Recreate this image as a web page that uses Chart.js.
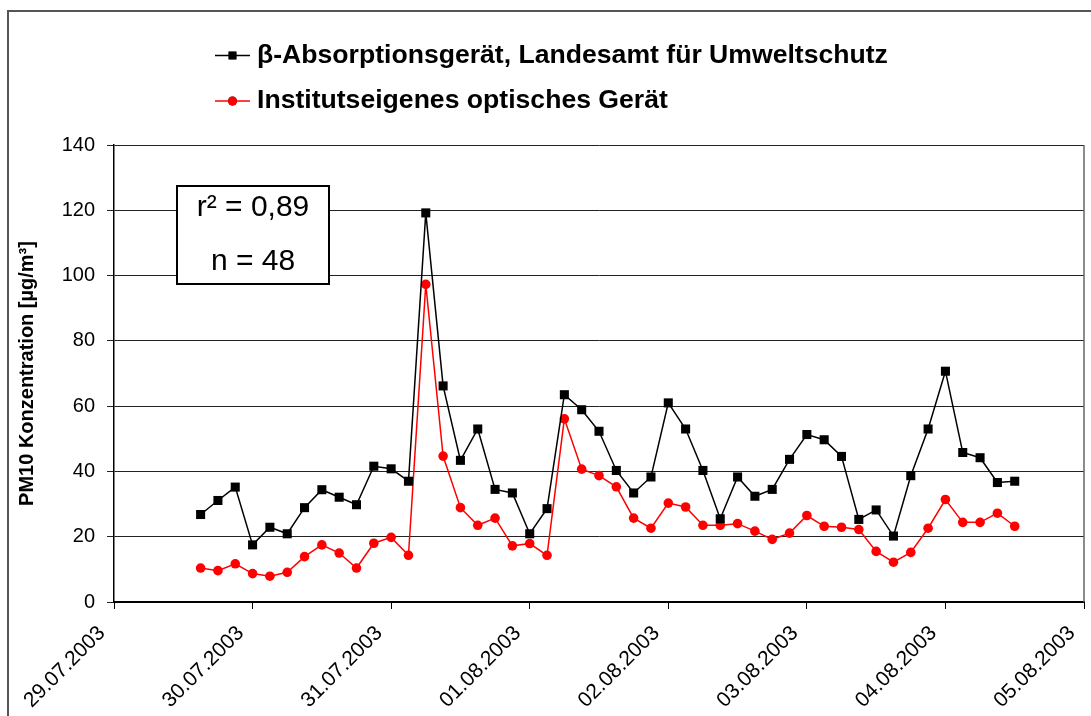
<!DOCTYPE html>
<html>
<head>
<meta charset="utf-8">
<script src="https://cdn.jsdelivr.net/npm/chart.js@4.4.1/dist/chart.umd.min.js"></script>
<style>
  body { margin: 0; background: #fff; }
  canvas { display: block; }
</style>
</head>
<body>
<canvas id="pm10-chart" width="1091" height="716"></canvas>
<script>
// Measurement times, in hours since 29.07.2003 00:00 (3-hour values)
const hoursSinceStart = [
  15, 18, 21, 24, 27, 30, 33, 36, 39, 42, 45, 48,
  51, 54, 57, 60, 63, 66, 69, 72, 75, 78, 81, 84,
  87, 90, 93, 96, 99, 102, 105, 108, 111, 114, 117, 120,
  123, 126, 129, 132, 135, 138, 141, 144, 147, 150, 153, 156
];

// beta absorption instrument (state environmental agency)
const betaValues = [
  26.8, 31.1, 35.2, 17.5, 22.9, 20.9, 28.9, 34.4, 32.1, 29.8, 41.6, 40.8,
  37.0, 119.2, 66.2, 43.4, 53.0, 34.5, 33.4, 20.9, 28.6, 63.5, 58.9, 52.3,
  40.3, 33.4, 38.3, 61.0, 53.0, 40.3, 25.5, 38.3, 32.4, 34.5, 43.7, 51.3,
  49.7, 44.6, 25.3, 28.2, 20.2, 38.7, 53.0, 70.7, 45.8, 44.2, 36.6, 37.0
];

// institute's own optical instrument
const opticalValues = [
  10.4, 9.6, 11.7, 8.7, 7.9, 9.1, 13.9, 17.5, 15.0, 10.4, 18.0, 19.8,
  14.3, 97.3, 44.7, 28.9, 23.5, 25.7, 17.2, 17.9, 14.3, 56.1, 40.7, 38.7,
  35.3, 25.7, 22.6, 30.3, 29.1, 23.5, 23.5, 24.0, 21.7, 19.2, 21.1, 26.5,
  23.2, 22.9, 22.2, 15.5, 12.2, 15.2, 22.6, 31.4, 24.4, 24.4, 27.2, 23.2
];

const dayLabels = [
  "29.07.2003", "30.07.2003", "31.07.2003", "01.08.2003",
  "02.08.2003", "03.08.2003", "04.08.2003", "05.08.2003"
];

const seriesNames = [
  "β-Absorptionsgerät, Landesamt für Umweltschutz",
  "Institutseigenes optisches Gerät"
];

const statLines = ["r² = 0,89", "n = 48"];

const FONT = "'Liberation Sans', Arial, sans-serif";

function toPoints(values) {
  return values.map((v, i) => ({ x: hoursSinceStart[i], y: v }));
}

// outer frame + right edge of the plot area
const framePlugin = {
  id: "frame",
  beforeDraw(chart) {
    const ctx = chart.ctx;
    ctx.save();
    ctx.strokeStyle = "#555";
    ctx.lineWidth = 2;
    ctx.beginPath();
    ctx.moveTo(8, chart.height);
    ctx.lineTo(8, 11);
    ctx.lineTo(chart.width, 11);
    ctx.stroke();
    ctx.restore();
  },
  afterDraw(chart) {
    const { ctx, chartArea } = chart;
    ctx.save();
    ctx.strokeStyle = "#666";
    ctx.lineWidth = 1.5;
    ctx.beginPath();
    ctx.moveTo(chartArea.right, chartArea.top);
    ctx.lineTo(chartArea.right, chartArea.bottom);
    ctx.stroke();
    ctx.restore();
  }
};

// legend stacked on two rows, like the original
const stackedLegend = {
  id: "stackedLegend",
  afterDraw(chart) {
    const ctx = chart.ctx;
    ctx.save();
    chart.data.datasets.forEach((ds, i) => {
      const y = 55.5 + i * 45.5;
      ctx.strokeStyle = ds.borderColor;
      ctx.lineWidth = 1.5;
      ctx.beginPath();
      ctx.moveTo(215, y);
      ctx.lineTo(250, y);
      ctx.stroke();
      Chart.helpers.drawPoint(ctx, {
        pointStyle: ds.pointStyle,
        radius: ds.pointStyle === "rect" ? 5.5 : 4.5,
        borderWidth: 0
      }, 232.5, y);
      ctx.fillStyle = ds.pointBackgroundColor;
      ctx.fill();
      ctx.fillStyle = "#000";
      ctx.font = "bold 26.6px " + FONT;
      ctx.textBaseline = "middle";
      ctx.textAlign = "left";
      ctx.fillText(ds.label, 257, y);
    });
    ctx.restore();
  }
};

// r² / n box
const statsBox = {
  id: "statsBox",
  afterDatasetsDraw(chart) {
    const ctx = chart.ctx;
    ctx.save();
    ctx.fillStyle = "#fff";
    ctx.fillRect(177, 186, 152, 98);
    ctx.strokeStyle = "#000";
    ctx.lineWidth = 2;
    ctx.strokeRect(177, 186, 152, 98);
    ctx.fillStyle = "#000";
    ctx.font = "30px " + FONT;
    ctx.textAlign = "center";
    ctx.textBaseline = "middle";
    ctx.fillText(statLines[0], 253, 208);
    ctx.fillText(statLines[1], 253, 262);
    ctx.restore();
  }
};

new Chart(document.getElementById("pm10-chart"), {
  type: "line",
  data: {
    datasets: [
      {
        label: seriesNames[0],
        data: toPoints(betaValues),
        borderColor: "#000",
        backgroundColor: "#000",
        pointBackgroundColor: "#000",
        borderWidth: 1.5,
        pointStyle: "rect",
        pointRadius: 6.4,
        pointBorderWidth: 0,
        tension: 0
      },
      {
        label: seriesNames[1],
        data: toPoints(opticalValues),
        borderColor: "#ff0000",
        backgroundColor: "#ff0000",
        pointBackgroundColor: "#ff0000",
        borderWidth: 1.5,
        pointStyle: "circle",
        pointRadius: 4.8,
        pointBorderWidth: 0,
        tension: 0
      }
    ]
  },
  options: {
    responsive: false,
    animation: false,
    devicePixelRatio: 1,
    layout: { padding: { top: 145, left: 10, right: 7, bottom: 0 } },
    plugins: {
      legend: { display: false },
      tooltip: { enabled: false }
    },
    scales: {
      x: {
        type: "linear",
        min: 0,
        max: 168,
        afterFit: (scale) => {
          scale.height = 114;
          scale.paddingLeft = 0;
          scale.paddingRight = 0;
        },
        ticks: {
          stepSize: 24,
          autoSkip: false,
          minRotation: 45,
          maxRotation: 45,
          padding: 12,
          labelOffset: -12,
          color: "#000",
          font: { family: FONT, size: 21 },
          callback: (value) => dayLabels[Math.round(value / 24)]
        },
        grid: { drawOnChartArea: false, drawTicks: true, tickLength: 7, color: "#000" },
        border: { display: true, color: "#000", width: 2 }
      },
      y: {
        min: 0,
        max: 140,
        afterFit: (scale) => { scale.width = 104; },
        ticks: {
          stepSize: 20,
          padding: 12,
          color: "#000",
          font: { family: FONT, size: 20 }
        },
        grid: { color: "#222", lineWidth: 1, tickLength: 7 },
        border: { display: true, color: "#000", width: 1.5 },
        title: {
          display: true,
          text: "PM10 Konzentration [µg/m³]",
          color: "#000",
          padding: { top: 5, bottom: 0 },
          font: { family: FONT, size: 20, weight: "bold" }
        }
      }
    }
  },
  plugins: [framePlugin, stackedLegend, statsBox]
});
</script>
</body>
</html>
